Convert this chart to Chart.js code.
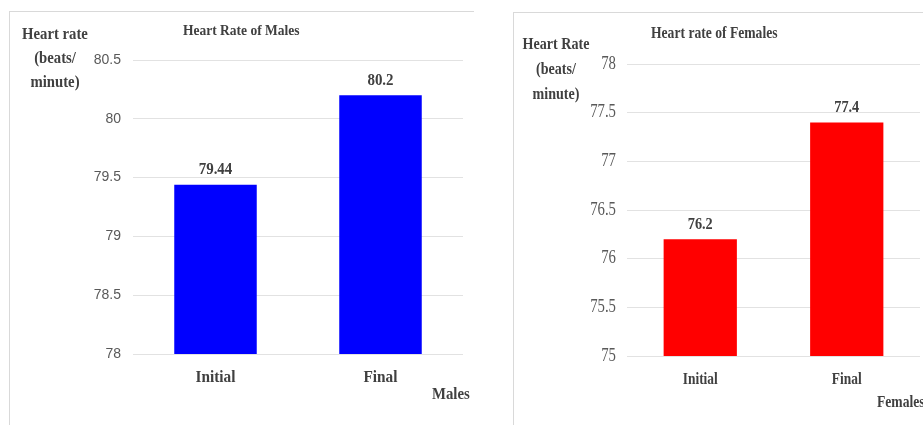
<!DOCTYPE html>
<html>
<head>
<meta charset="utf-8">
<script src="https://cdn.jsdelivr.net/npm/chart.js@4.4.1/dist/chart.umd.min.js"></script>
<style>
  body { margin: 0; background: #fff; }
  #page { position: relative; width: 923px; height: 425px; overflow: hidden; }
  .panel { position: absolute; border-top: 1px solid #d9d9d9; border-left: 1px solid #d9d9d9; }
  canvas { position: absolute; top: 0; }
</style>
</head>
<body>
<div id="page">
  <div class="panel" style="left:9px; top:11px; width:464px; height:420px;"></div>
  <div class="panel" style="left:513px; top:12px; width:420px; height:420px;"></div>
  <canvas id="malesChart" width="490" height="425" style="left:0px"></canvas>
  <canvas id="femalesChart" width="433" height="425" style="left:490px"></canvas>
</div>
<script>
// Data
const categories = ['Initial', 'Final'];
const maleValues = [79.44, 80.2];
const femaleValues = [76.2, 77.4];
const maleTicks = [78, 80.5];   // min / max of the y axis
const femaleTicks = [75, 78];

const SERIF = '"Liberation Serif", "Times New Roman", serif';
const TEXT_DARK = '#404040';
const TEXT_GRAY = '#595959';

// draw a narrow (horizontally squeezed) serif string
function drawNarrow(ctx, text, x, y, size, weight, sx, align, color) {
    ctx.save();
    ctx.font = weight + ' ' + size + 'px ' + SERIF;
    ctx.fillStyle = color;
    ctx.textAlign = align;
    ctx.textBaseline = 'middle';
    ctx.translate(x, y);
    ctx.scale(sx, 1);
    ctx.fillText(text, 0, 0);
    ctx.restore();
}

// Titles, captions, value labels and serif tick labels
const serifText = {
    id: 'serifText',
    afterDraw(chart, args, o) {
        const ctx = chart.ctx;
        const ox = o.offsetX;
        const area = chart.chartArea;

        // value labels above bars
        chart.getDatasetMeta(0).data.forEach((bar, i) => {
            drawNarrow(ctx, String(chart.data.datasets[0].data[i]), bar.x, bar.y - 15,
                17, 'bold', o.valueSx, 'center', TEXT_DARK);
        });

        // category labels
        const xs = chart.scales.x;
        xs.ticks.forEach((t, i) => {
            drawNarrow(ctx, xs.getLabelForValue(t.value), xs.getPixelForTick(i), area.bottom + 24,
                17, 'bold', o.catSx, 'center', TEXT_DARK);
        });

        // y tick labels (serif version only)
        if (o.serifYTicks) {
            const ys = chart.scales.y;
            ys.ticks.forEach((t, i) => {
                drawNarrow(ctx, String(t.value), area.left - 11, ys.getPixelForTick(i),
                    18, 'normal', 0.82, 'right', TEXT_GRAY);
            });
        }

        // chart title
        drawNarrow(ctx, o.title, o.titleX - ox, o.titleY, o.titleSize, 'bold', o.titleSx, 'left', TEXT_DARK);

        // y axis caption (three lines)
        o.yCaption.forEach((line, i) => {
            drawNarrow(ctx, line, o.capX - ox, o.capY + i * o.capGap, 16, 'bold', o.capSx, 'center', TEXT_DARK);
        });

        // x axis caption
        drawNarrow(ctx, o.xCaption, o.xCapX - ox, o.xCapY, 17, 'bold', o.xCapSx, 'left', TEXT_DARK);
    }
};

function makeChart(id, values, color, range, area, canvasW, canvasH, yTicks, textOpts) {
    return new Chart(document.getElementById(id).getContext('2d'), {
        type: 'bar',
        data: {
            labels: categories,
            datasets: [{
                data: values,
                backgroundColor: color,
                borderWidth: 0,
                barPercentage: 0.5,
                categoryPercentage: 1
            }]
        },
        options: {
            responsive: false,
            animation: false,
            layout: {
                padding: { left: 0, top: area.top, right: canvasW - area.right, bottom: 0 }
            },
            plugins: {
                legend: { display: false },
                tooltip: { enabled: false },
                serifText: textOpts
            },
            scales: {
                x: {
                    grid: { display: false },
                    border: { display: false },
                    ticks: { display: false },
                    afterFit: (scale) => { scale.height = canvasH - area.bottom; }
                },
                y: {
                    min: range[0],
                    max: range[1],
                    border: { display: false },
                    grid: { color: '#e2e2e2', drawTicks: false },
                    ticks: yTicks,
                    afterFit: (scale) => { scale.width = area.left; }
                }
            }
        },
        plugins: [serifText]
    });
}

// Males (left panel), canvas at x=0
makeChart('malesChart', maleValues, '#0000ff', maleTicks,
    { left: 133, right: 463, top: 60, bottom: 354 }, 490, 425,
    {
        stepSize: 0.5, padding: 12, color: TEXT_GRAY,
        font: { family: '"Liberation Sans", Arial, sans-serif', size: 14 },
        callback: (value) => String(value)
    },
    {
        offsetX: 0,
        valueSx: 0.88, catSx: 0.9, serifYTicks: false,
        title: 'Heart Rate of Males', titleX: 183, titleY: 31, titleSize: 15, titleSx: 0.9,
        yCaption: ['Heart rate', '(beats/', 'minute)'], capX: 55, capY: 35, capGap: 24, capSx: 0.92,
        xCaption: 'Males', xCapX: 432, xCapY: 395, xCapSx: 0.87
    });

// Females (right panel), canvas at x=490
makeChart('femalesChart', femaleValues, '#ff0000', femaleTicks,
    { left: 137, right: 430, top: 64, bottom: 356 }, 433, 425,
    { stepSize: 0.5, display: false },
    {
        offsetX: 490,
        valueSx: 0.84, catSx: 0.79, serifYTicks: true,
        title: 'Heart rate of Females', titleX: 651, titleY: 34, titleSize: 17, titleSx: 0.8,
        yCaption: ['Heart Rate', '(beats/', 'minute)'], capX: 556, capY: 45, capGap: 25, capSx: 0.88,
        xCaption: 'Females', xCapX: 877, xCapY: 403, xCapSx: 0.8
    });
</script>
</body>
</html>
